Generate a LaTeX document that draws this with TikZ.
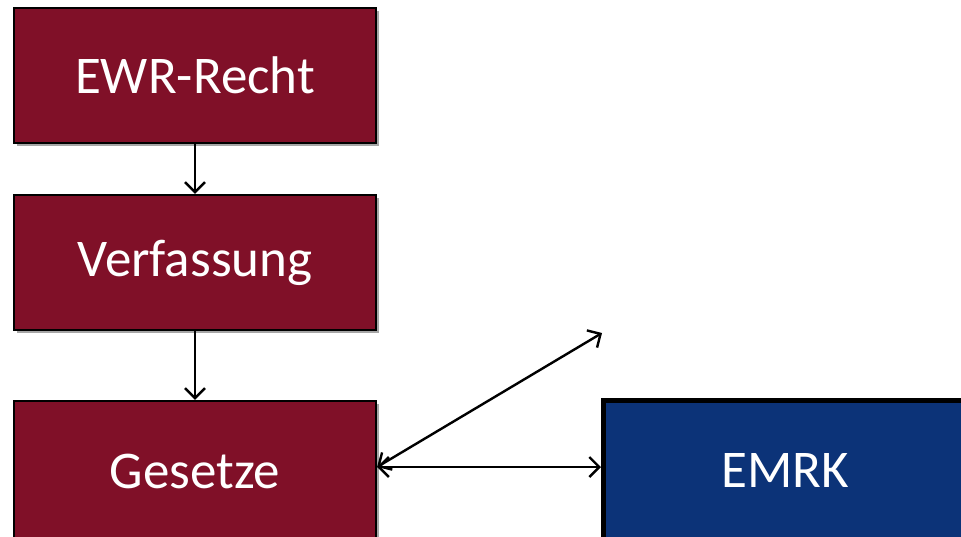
\documentclass[tikz,border=0pt]{standalone}
\usepackage{fontspec}
\setmainfont{Carlito}
\usetikzlibrary{arrows.meta,shadows,calc}
\definecolor{boxred}{RGB}{128,16,40}
\definecolor{boxblue}{RGB}{12,51,120}
\tikzset{
  redbox/.style={draw=black, line width=2.3pt, fill=boxred, text=white,
    minimum width=362pt, minimum height=135pt, inner sep=0pt,
    font=\fontsize{53}{62}\selectfont,
    drop shadow={shadow xshift=3pt, shadow yshift=-3pt, opacity=0.35, fill=black}},
  bluebox/.style={draw=black, line width=5pt, fill=boxblue, text=white,
    minimum width=364pt, minimum height=140pt, inner sep=0pt,
    font=\fontsize{53}{62}\selectfont},
  conn/.style={draw=black, line width=2.4pt,
    arrows={-Straight Barb[length=10pt,width=20pt,line width=2.4pt]}},
  bconn/.style={draw=black, line width=2.4pt,
    arrows={Straight Barb[length=10pt,width=20pt,line width=2.4pt]-Straight Barb[length=10pt,width=20pt,line width=2.4pt]}}
}
\begin{document}
\begin{tikzpicture}[x=1pt,y=-1pt]
\useasboundingbox (0,0) rectangle (961,536);
\clip (0,0) rectangle (961,536);
\fill[white] (0,0) rectangle (961,536);
\node[redbox] (ewr) at (195,75.7) {EWR-Recht};
\node[redbox] (verf) at (195,262.5) {Verfassung};
\node[redbox, minimum height=140pt] (ges) at (195,471) {Gesetze};
\node[bluebox] (emrk) at (785.5,470.5) {EMRK};
\coordinate (free) at (602,333);
\coordinate (gp) at ([yshift=4pt]ges.east);
\draw[conn] (ewr) -- (verf);
\draw[conn] (verf) -- (ges);
\draw[bconn] (gp) -- (gp -| emrk.west);
\draw[bconn] (gp) -- (free);
\end{tikzpicture}
\end{document}
